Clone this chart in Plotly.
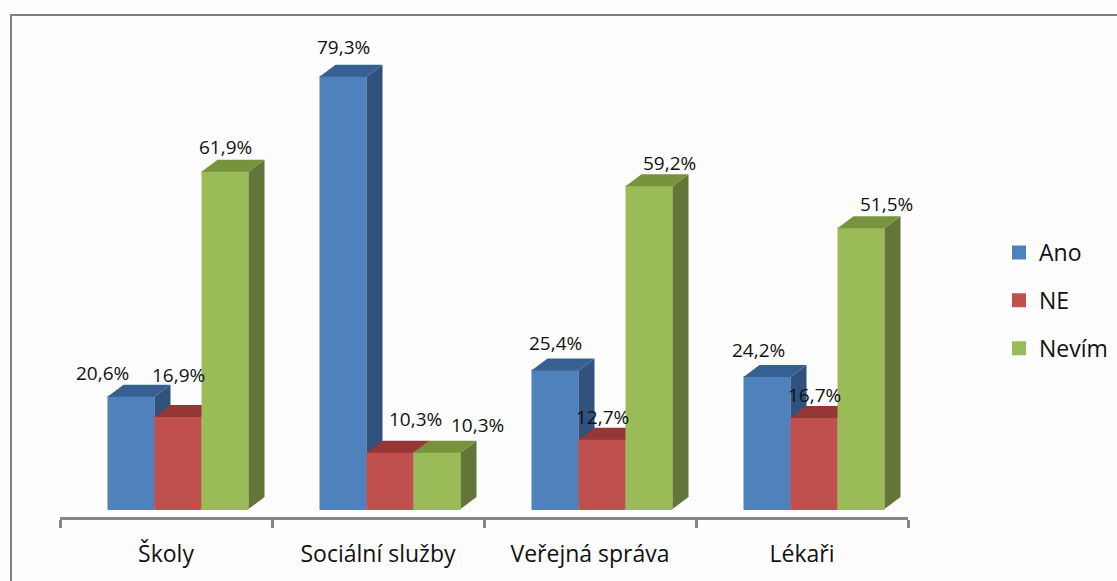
import plotly.graph_objects as go

categories = ["Školy", "Sociální služby", "Veřejná správa", "Lékaři"]
series_names = ["Ano", "NE", "Nevím"]
ano_values = [20.6, 79.3, 25.4, 24.2]
ne_values = [16.9, 10.3, 12.7, 16.7]
nevim_values = [61.9, 10.3, 59.2, 51.5]
all_values = [ano_values, ne_values, nevim_values]
value_labels = [
    ["20,6%", "79,3%", "25,4%", "24,2%"],
    ["16,9%", "10,3%", "12,7%", "16,7%"],
    ["61,9%", "10,3%", "59,2%", "51,5%"],
]

# style / layout
W, H = 1117, 581
AX_L, AX_R, AX_B, AX_T = 60, 908, 517, 20
CAT_PX = (AX_R - AX_L) / len(categories)
PX_PER_UNIT = 5.45
ZERO_PX = 509
front = ["#4f81bd", "#c0504d", "#9bbb59"]
side = ["#30527c", "#8e3835", "#64753a"]
top = ["#376092", "#943735", "#77933c"]
bar_w = 47 / CAT_PX
group_shift = 12 / CAT_PX
depth_x = 16 / CAT_PX
depth_y = 12 / PX_PER_UNIT
label_shift = [
    [(-29, 24), (0, 30), (0, 28), (-9, 27)],
    [(0, 42), (25, 34), (0, 23), (0, 23)],
    [(0, 25), (40, 28), (20, 23), (25, 24)],
]
FONT = "'Open Sans', Lato, sans-serif"
TXT = "#111111"

fig = go.Figure()
for s, (name, vals) in enumerate(zip(series_names, all_values)):
    ax = "" if s == 0 else str(s + 1)
    xs = [i + 0.5 + group_shift + (s - 1) * bar_w for i in range(len(vals))]
    fig.add_trace(go.Bar(
        x=xs, y=vals, width=bar_w - 2 / CAT_PX, name=name, legendgroup=name,
        marker=dict(color=front[s], line=dict(color=front[s], width=2)),
        xaxis="x" + ax, yaxis="y" + ax, hoverinfo="skip",
    ))
    for xc, v in zip(xs, vals):
        x0, x1 = xc - bar_w / 2, xc + bar_w / 2
        fig.add_trace(go.Scatter(
            x=[x1, x1 + depth_x, x1 + depth_x, x1, x1],
            y=[0, depth_y, v + depth_y, v, 0],
            mode="lines", fill="toself", fillcolor=side[s], line=dict(width=0),
            showlegend=False, legendgroup=name, hoverinfo="skip",
            xaxis="x" + ax, yaxis="y" + ax,
        ))
        fig.add_trace(go.Scatter(
            x=[x0, x0 + depth_x, x1 + depth_x, x1, x0],
            y=[v, v + depth_y, v + depth_y, v, v],
            mode="lines", fill="toself", fillcolor=top[s], line=dict(width=0),
            showlegend=False, legendgroup=name, hoverinfo="skip",
            xaxis="x" + ax, yaxis="y" + ax,
        ))
    for xc, v, t, (dx, dy) in zip(xs, vals, value_labels[s], label_shift[s]):
        fig.add_annotation(x=xc, y=v, text=t, xref="x", yref="y", showarrow=False,
                           xshift=dx, yshift=dy, font=dict(family=FONT, size=19, color=TXT))

y_range = [(ZERO_PX - AX_B) / PX_PER_UNIT, (ZERO_PX - AX_T) / PX_PER_UNIT]
fig.update_layout(
    width=W, height=H, margin=dict(l=0, r=0, t=0, b=0), autosize=False,
    paper_bgcolor="#fdfdfd", plot_bgcolor="rgba(0,0,0,0)",
    barmode="overlay", showlegend=True,
    font=dict(family=FONT, color=TXT),
    legend=dict(x=999 / W, xanchor="left", y=1 - 231 / H, yanchor="top",
                font=dict(family=FONT, size=23, color=TXT), tracegroupgap=15,
                itemwidth=30, bgcolor="rgba(0,0,0,0)"),
    xaxis=dict(domain=[AX_L / W, AX_R / W], range=[0, len(categories)],
               tickvals=[i + 0.5 for i in range(len(categories))], ticktext=categories,
               ticks="", showgrid=False, zeroline=False,
               showline=True, linecolor="#868686", linewidth=2.5,
               tickfont=dict(family=FONT, size=23, color=TXT), ticklabelstandoff=15,
               minor=dict(tickvals=list(range(len(categories) + 1)), ticks="outside",
                          ticklen=8, tickwidth=2.5, tickcolor="#868686", showgrid=False)),
    yaxis=dict(domain=[1 - AX_B / H, 1 - AX_T / H], range=y_range, visible=False),
    shapes=[dict(type="rect", xref="paper", yref="paper",
                 x0=11 / W, x1=1 + 10 / W, y0=-10 / H, y1=1 - 15 / H,
                 line=dict(color="#7f7f7f", width=2), fillcolor="rgba(0,0,0,0)", layer="below")],
)
for n in (2, 3):
    fig.update_layout({
        f"xaxis{n}": dict(overlaying="x", matches="x", visible=False),
        f"yaxis{n}": dict(overlaying="y", matches="y", visible=False),
    })

fig.write_html("out.html", config=dict(displayModeBar=False),
               post_script="document.body.style.margin='0';")
